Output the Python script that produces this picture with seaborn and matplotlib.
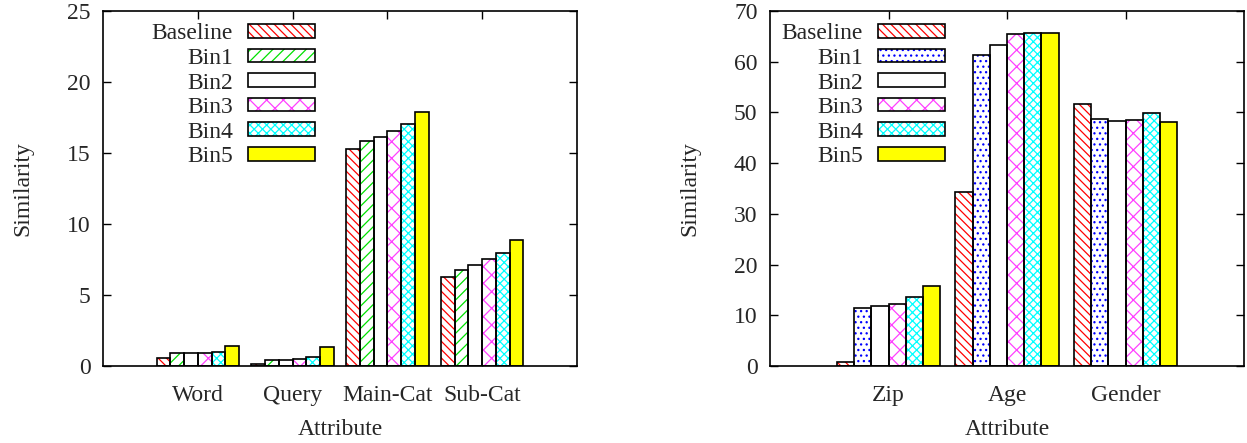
import matplotlib
matplotlib.use("Agg")
import matplotlib.pyplot as plt
import matplotlib.patches as mpatches
import pandas as pd
import seaborn as sns

# ---- data ---------------------------------------------------------------
series = ["Baseline", "Bin1", "Bin2", "Bin3", "Bin4", "Bin5"]

query_attrs = ["Word", "Query", "Main-Cat", "Sub-Cat"]
query_baseline = [0.55, 0.14, 15.30, 6.26]
query_bin1 = [0.90, 0.40, 15.87, 6.76]
query_bin2 = [0.90, 0.40, 16.10, 7.08]
query_bin3 = [0.90, 0.47, 16.57, 7.53]
query_bin4 = [1.00, 0.61, 17.04, 7.96]
query_bin5 = [1.43, 1.36, 17.90, 8.88]

user_attrs = ["Zip", "Age", "Gender"]
user_baseline = [0.85, 34.4, 51.7]
user_bin1 = [11.5, 61.3, 48.8]
user_bin2 = [11.9, 63.2, 48.3]
user_bin3 = [12.26, 65.4, 48.5]
user_bin4 = [13.7, 65.6, 49.8]
user_bin5 = [15.75, 65.7, 48.06]

left_yticks = [0, 5, 10, 15, 20, 25]
right_yticks = [0, 10, 20, 30, 40, 50, 60, 70]

# ---- styling ------------------------------------------------------------
sns.set_style("ticks")
plt.rcParams["font.family"] = ["Liberation Serif", "DejaVu Serif"]
plt.rcParams["hatch.linewidth"] = 0.9

# (face colour, hatch colour, hatch)
left_styles = [
    ("white", "#ff0000", "\\\\\\\\"),
    ("white", "#00e000", "///"),
    ("white", "black", None),
    ("white", "#ff40ff", "xx"),
    ("white", "#00ffff", "xxxx"),
    ("#ffff00", "black", None),
]
right_styles = [
    ("white", "#ff0000", "\\\\\\\\"),
    ("white", "#0000ff", "..."),
    ("white", "black", None),
    ("white", "#ff40ff", "xx"),
    ("white", "#00ffff", "xxxx"),
    ("#ffff00", "black", None),
]

FS = 17
OUTLINE = 1.2


def long_table(attrs, columns):
    rows = []
    for name, vals in zip(series, columns):
        for a, v in zip(attrs, vals):
            rows.append({"Attribute": a, "Series": name, "Similarity": v})
    return pd.DataFrame(rows)


def draw(ax, attrs, columns, styles, ymax, yticks, anchor):
    df = long_table(attrs, columns)
    sns.barplot(data=df, x="Attribute", y="Similarity", hue="Series",
                order=attrs, hue_order=series, width=0.87, errorbar=None,
                legend=False, ax=ax)
    for container, (fc, hc, h) in zip(ax.containers, styles):
        for bar in container:
            bar.set_facecolor(fc)
            bar.set_edgecolor(hc)
            bar.set_hatch(h)
            bar.set_linewidth(0)
            ax.add_patch(mpatches.Rectangle(
                bar.get_xy(), bar.get_width(), bar.get_height(),
                fill=False, edgecolor="black", linewidth=OUTLINE,
                zorder=bar.get_zorder() + 0.1))
    ax.set_xlim(-1, len(attrs))
    ax.set_ylim(0, ymax)
    ax.set_yticks(yticks)
    ax.set_xlabel("Attribute", fontsize=FS, labelpad=9)
    ax.set_ylabel("Similarity", fontsize=FS, labelpad=24)
    ax.tick_params(axis="both", direction="in", length=5.8, width=1.0,
                   top=True, right=True, labelsize=FS, color="black")
    ax.tick_params(axis="y", pad=9)
    ax.tick_params(axis="x", pad=14)
    for s in ax.spines.values():
        s.set_linewidth(1.2)
        s.set_color("black")

    handles = [
        (mpatches.Patch(facecolor=fc, edgecolor=hc, hatch=h, linewidth=0),
         mpatches.Patch(facecolor="none", edgecolor="black", linewidth=OUTLINE))
        for fc, hc, h in styles
    ]
    ax.legend(handles, series, loc="upper left", bbox_to_anchor=anchor,
              markerfirst=False, frameon=False, fontsize=FS,
              handlelength=2.84, handleheight=0.51, handletextpad=0.64,
              labelspacing=0.15, borderpad=0, borderaxespad=0)


fig = plt.figure(figsize=(12.47, 4.43), dpi=100)
ax1 = fig.add_axes([103 / 1247, 77 / 443, 474 / 1247, 355 / 443])
ax2 = fig.add_axes([770 / 1247, 77 / 443, 474 / 1247, 355 / 443])

draw(ax1, query_attrs,
     [query_baseline, query_bin1, query_bin2, query_bin3, query_bin4, query_bin5],
     left_styles, 25, left_yticks, (0.103, 0.965))
draw(ax2, user_attrs,
     [user_baseline, user_bin1, user_bin2, user_bin3, user_bin4, user_bin5],
     right_styles, 70, right_yticks, (0.025, 0.965))

fig.savefig("out.png", dpi=100)
